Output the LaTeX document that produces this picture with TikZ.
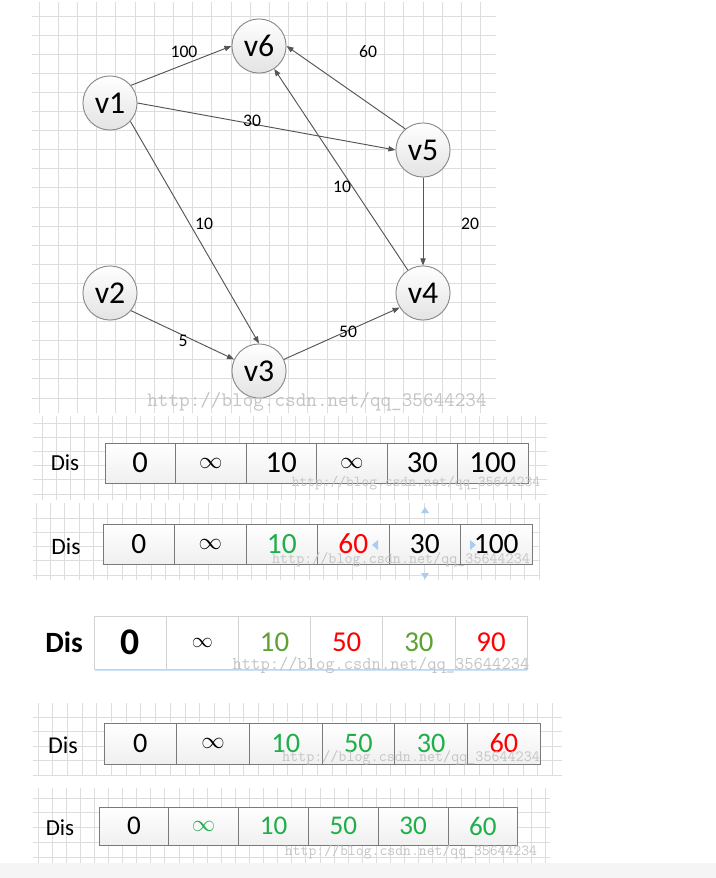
\documentclass[tikz,border=0pt]{standalone}
\usepackage{fontspec}
\setmainfont{Carlito}
\usepackage{graphicx}
\usetikzlibrary{arrows.meta}

\definecolor{linkgray}{HTML}{555555}
\definecolor{nodeline}{HTML}{8A8A8A}
\definecolor{cellline}{HTML}{7A7A7A}
\definecolor{gridgray}{HTML}{DDDDDD}
\definecolor{markgray}{HTML}{C4C4C4}
\definecolor{dgreen}{HTML}{1FAF4A}
\definecolor{ogreen}{HTML}{5DA130}
\definecolor{hred}{HTML}{FF0000}
\definecolor{handle}{HTML}{A9CDF2}
\newcommand{\infsym}[1][0.8]{\scalebox{#1}{$\infty$}}

\begin{document}
\begin{tikzpicture}[x=0.85pt,y=-0.85pt,
    vert/.style={circle, draw=nodeline, line width=0.8pt, top color=white, bottom color=gray!22,
      minimum size=46pt, inner sep=0pt, font=\fontsize{27}{27}\selectfont},
    link/.style={draw=linkgray, line width=0.8pt, -{Triangle[length=6pt,width=4.5pt]}},
    wlabel/.style={inner sep=1pt, font=\fontsize{15}{15}\selectfont},
    gridline/.style={draw=gridgray, line width=0.7pt},
    cell/.style={draw=cellline, line width=0.8pt, top color=white, bottom color=gray!12, inner sep=0pt},
    dislabel/.style={inner sep=1pt},
    wmark/.style={text=markgray, inner sep=0pt}]

    \useasboundingbox (0,0) rectangle (716,878);
    \fill[white] (0,0) rectangle (716,878);

    % background grids
    \foreach \k in {0,...,20}
        \draw[gridline] (32,{16+19.1*\k}) -- (496,{16+19.1*\k});
    \foreach \k in {0,...,23}
        \draw[gridline] ({39+19.2*\k},2) -- ({39+19.2*\k},413);
    \foreach \k in {0,...,5}
        \draw[gridline] (33,{423+14.2*\k}) -- (547,{423+14.2*\k});
    \foreach \k in {0,...,35}
        \draw[gridline] ({42+14.1*\k},416) -- ({42+14.1*\k},500);
    \foreach \k in {0,...,4}
        \draw[gridline] (33,{518+14.3*\k}) -- (540,{518+14.3*\k});
    \foreach \k in {0,...,35}
        \draw[gridline] ({36+14.37*\k},503) -- ({36+14.37*\k},580);
    \foreach \k in {0,...,4}
        \draw[gridline] (33,{717+14.5*\k}) -- (562,{717+14.5*\k});
    \foreach \k in {0,...,35}
        \draw[gridline] ({38+14.7*\k},703) -- ({38+14.7*\k},776);
    \foreach \k in {0,...,4}
        \draw[gridline] (33,{798+14.8*\k}) -- (550,{798+14.8*\k});
    \foreach \k in {0,...,36}
        \draw[gridline] ({38+14.1*\k},788) -- ({38+14.1*\k},863);
    \fill[gray!8] (0,863) rectangle (716,878);

    % graph
    \node[vert] (v1) at (110,103) {v1};
    \node[vert] (v2) at (110,293) {v2};
    \node[vert] (v3) at (259,371) {v3};
    \node[vert] (v4) at (423,293) {v4};
    \node[vert] (v5) at (423,150) {v5};
    \node[vert] (v6) at (259,46) {v6};

    \draw[link] (v1.40) -- (v6.west);
    \draw[link] (v1.east) -- (v5.west);
    \draw[link] (v1.-42) -- (v3.north);
    \draw[link] (v2.-40) -- (v3.155);
    \draw[link] (v3.25) -- (v4.212);
    \draw[link] (v5.south) -- (v4.north);
    \draw[link] (v5.130) -- (v6.east);
    \draw[link] (v4) -- (v6);

    \node[wlabel] (w16) at (184,52) {100};
    \node[wlabel] (w56) at (368,52) {60};
    \node[wlabel] (w15) at (252,121) {30};
    \node[wlabel] (w46) at (342,187) {10};
    \node[wlabel] (w13) at (204,224) {10};
    \node[wlabel] (w54) at (470,224) {20};
    \node[wlabel] (w23) at (183,341) {5};
    \node[wlabel] (w34) at (348,332) {50};

    \node[wmark, font=\ttfamily\fontsize{17.5}{17.5}\selectfont] (m0) at (317,402) {http://blog.csdn.net/qq\_35644234};

    % table 1
    \node[dislabel, font=\fontsize{19.5}{20}\selectfont] (d1) at (65,463) {Dis};
    \foreach \v/\col [count=\i] in {0/black, \infsym/black, 10/black, \infsym/black, 30/black, 100/black}
        \node[cell, minimum width=59.9pt, minimum height=34pt, text=\col, font=\fontsize{26}{26}\selectfont]
            (a\i) at ({105+70.5*(\i-0.5)},463) {\v};
    \node[wmark, font=\ttfamily\fontsize{12.8}{13}\selectfont] (m1) at (416,483) {http://blog.csdn.net/qq\_35644234};

    % table 2
    \node[dislabel, font=\fontsize{20}{20}\selectfont] (d2) at (66,546) {Dis};
    \foreach \v/\col [count=\i] in {0/black, \infsym/black, 10/dgreen, 60/hred, 30/black, 100/black}
        \node[cell, minimum width=60.8pt, minimum height=34pt, text=\col, font=\fontsize{25}{25}\selectfont]
            (b\i) at ({103+71.5*(\i-0.5)},544) {\v};
    \node[wmark, font=\ttfamily\fontsize{13.3}{13}\selectfont] (m2) at (401,560) {http://blog.csdn.net/qq\_35644234};
    \fill[handle] (421,513) -- (429,513) -- (425,507) -- cycle;
    \fill[handle] (421,573) -- (429,573) -- (425,579) -- cycle;
    \fill[handle] (378,540) -- (378,550) -- (372,545) -- cycle;
    \fill[handle] (470,540) -- (470,550) -- (476,545) -- cycle;

    % table 3
    \node[dislabel, font=\bfseries\fontsize{25}{25}\selectfont] (d3) at (64,642) {Dis};
    \draw[draw=handle!60, line width=1.5pt] (95,670) -- (527,670);
    \foreach \v/\col [count=\i] in {{\bfseries\fontsize{32}{32}\selectfont 0}/black, {\infsym[0.72]}/black, 10/ogreen, 50/hred, 30/ogreen, 90/hred}
        \node[cell, draw=gray!35, fill=white, top color=white, bottom color=white, minimum width=61.4pt, minimum height=45pt,
            text=\col, font=\fontsize{24.5}{25}\selectfont]
            (c\i) at ({94+72.2*(\i-0.5)},642.5) {\v};
    \node[wmark, font=\ttfamily\fontsize{15.3}{15}\selectfont] (m3) at (381,665) {http://blog.csdn.net/qq\_35644234};

    % table 4
    \node[dislabel, font=\fontsize{20.5}{21}\selectfont] (d4) at (63,745) {Dis};
    \foreach \v/\col [count=\i] in {0/black, \infsym/black, 10/dgreen, 50/dgreen, 30/dgreen, 60/hred}
        \node[cell, minimum width=61.8pt, minimum height=34.9pt, text=\col, font=\fontsize{24}{24}\selectfont]
            (e\i) at ({104+72.7*(\i-0.5)},743.5) {\v};
    \node[wmark, font=\ttfamily\fontsize{13.3}{13}\selectfont] (m4) at (411,758) {http://blog.csdn.net/qq\_35644234};

    % table 5
    \node[dislabel, font=\fontsize{19.5}{20}\selectfont] (d5) at (60,828) {Dis};
    \foreach \v/\col [count=\i] in {0/black, \infsym/dgreen, 10/dgreen, 50/dgreen, 30/dgreen, 60/dgreen}
        \node[cell, minimum width=59.3pt, minimum height=32.3pt, text=\col, font=\fontsize{23}{23}\selectfont]
            (f\i) at ({99+69.8*(\i-0.5)},826) {\v};
    \node[wmark, font=\ttfamily\fontsize{13}{13}\selectfont] (m5) at (411,852) {http://blog.csdn.net/qq\_35644234};

\end{tikzpicture}
\end{document}
